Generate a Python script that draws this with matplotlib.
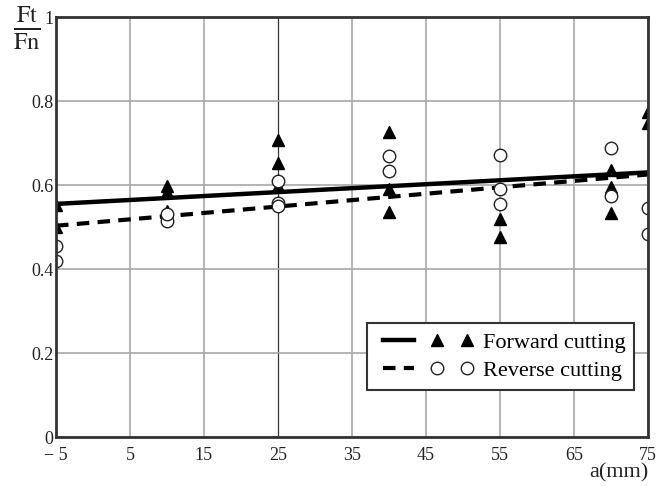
import matplotlib.pyplot as plt
from matplotlib.lines import Line2D
from matplotlib.legend_handler import HandlerTuple

# Data
fwd_x = [-5, -5, 10, 10, 10, 25, 25, 25, 40, 40, 40, 55, 55, 70, 70, 70, 75, 75]
fwd_y = [0.552, 0.500, 0.598, 0.584, 0.539, 0.707, 0.652, 0.598, 0.727, 0.590, 0.535,
         0.518, 0.477, 0.636, 0.596, 0.533, 0.775, 0.747]
rev_x = [-5, -5, 10, 10, 25, 25, 25, 40, 40, 55, 55, 55, 70, 70, 75, 75]
rev_y = [0.455, 0.420, 0.514, 0.530, 0.610, 0.557, 0.550, 0.670, 0.634,
         0.671, 0.590, 0.554, 0.689, 0.574, 0.546, 0.483]

fit_x = [-5, 75]
fwd_fit = [0.555, 0.630]
rev_fit = [0.503, 0.625]

x_ticks = [-5, 5, 15, 25, 35, 45, 55, 65, 75]
x_labels = ['\u2212 5', '5', '15', '25', '35', '45', '55', '65', '75']
y_ticks = [0, 0.2, 0.4, 0.6, 0.8, 1.0]
y_labels = ['0', '0.2', '0.4', '0.6', '0.8', '1']

plt.rcParams['font.family'] = ['Liberation Serif', 'DejaVu Serif']
plt.rcParams['mathtext.fontset'] = 'stix'

fig = plt.figure(figsize=(6.63, 4.86), dpi=100)
ax = fig.add_axes([0.0845, 0.1008, 0.8925, 0.8642])

ax.plot(fit_x, fwd_fit, color='black', linewidth=3.2, solid_capstyle='butt')
ax.plot(fit_x, rev_fit, color='black', linewidth=3.0, linestyle=(0, (3, 2)))
ax.plot(fwd_x, fwd_y, linestyle='none', marker='^', markersize=8,
        color='black')
ax.plot(rev_x, rev_y, linestyle='none', marker='o', markersize=9,
        markerfacecolor='white', markeredgecolor='#222222', markeredgewidth=1.0)

ax.set_xlim(-5, 75)
ax.set_ylim(0, 1)
ax.set_xticks(x_ticks)
ax.set_xticklabels(x_labels)
ax.set_yticks(y_ticks)
ax.set_yticklabels(y_labels)
ax.tick_params(length=0, labelsize=13, colors='#222222')
ax.tick_params(axis='x', pad=7)
ax.tick_params(axis='y', pad=2)

ax.grid(True, color='#a8a8a8', linewidth=1.2)
ax.set_axisbelow(True)
ax.get_xgridlines()[3].set_color('#333333')
ax.get_xgridlines()[3].set_linewidth(0.9)
for s in ax.spines.values():
    s.set_color('#333333')
    s.set_linewidth(2.0)

fig.text(0.978, 0.027, 'a(mm)', ha='right', va='center', fontsize=16, color='#222222')
fig.text(0.04, 0.942, r'$\frac{\mathrm{Ft}}{\mathrm{Fn}}$', ha='center', va='center',
         fontsize=25, color='#222222')

h_fwd = (Line2D([], [], color='black', linewidth=3.2),
         Line2D([], [], color='black', linestyle='none', marker='^', markersize=8))
h_rev = (Line2D([], [], color='black', linewidth=3.0, linestyle=(0, (3, 2))),
         Line2D([], [], linestyle='none', marker='o', markersize=9,
                markerfacecolor='white', markeredgecolor='#222222'))
leg = ax.legend([h_fwd, h_rev], ['Forward cutting', 'Reverse cutting'],
                handler_map={tuple: HandlerTuple(ndivide=None, pad=0.45)},
                numpoints=2, handlelength=4.4, handletextpad=0.4,
                loc='lower right', bbox_to_anchor=(0.9776, 0.112),
                fancybox=False, framealpha=1, edgecolor='#333333',
                fontsize=16, borderaxespad=0, borderpad=0.4, labelspacing=0.35)
leg.get_frame().set_linewidth(1.5)

fig.savefig('out.png', dpi=100)
